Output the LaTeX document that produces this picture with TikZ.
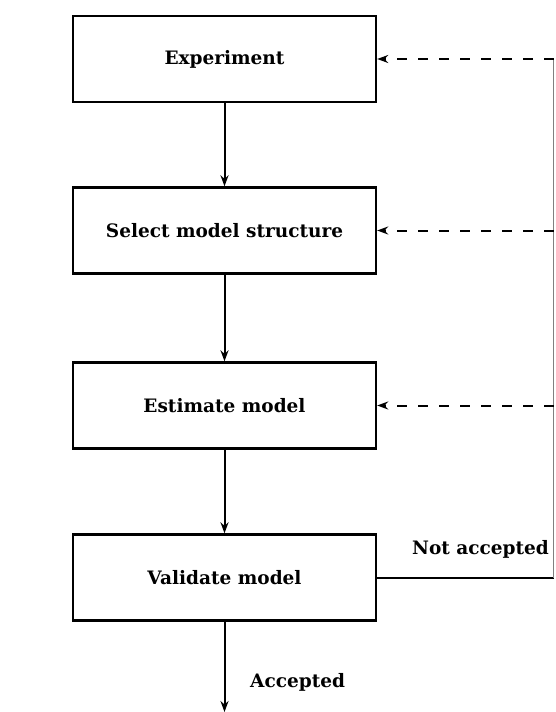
\documentclass[tikz,border=0pt]{standalone}
\usepackage{fontspec}
\setmainfont{DejaVu Serif}
\usetikzlibrary{arrows.meta}
\begin{document}
\begin{tikzpicture}[x=1pt,y=1pt,
  stage/.style={draw, line width=2.4pt, rectangle, minimum width=303pt, minimum height=86pt,
    inner sep=0pt, font=\fontsize{18.5}{22}\selectfont\bfseries},
  flow/.style={line width=2pt, -{Stealth[length=11pt,width=8pt]}},
  back/.style={line width=2pt, dash pattern=on 10pt off 11pt, -{Stealth[length=11pt,width=8pt]}},
  lbl/.style={font=\fontsize{18.5}{22}\selectfont\bfseries, inner sep=0pt}]
  \useasboundingbox (0,0) rectangle (555,-712);
  \fill[white] (0,0) rectangle (555,-712);

  % the four stages of the identification loop
  \node[stage] (exp) at (224.5,-59)    {Experiment};
  \node[stage] (sel) at (224.5,-230.5) {Select model structure};
  \node[stage] (est) at (224.5,-405.5) {Estimate model};
  \node[stage] (val) at (224.5,-577.5) {Validate model};

  % return path on the right
  \coordinate (r1) at (553.5,-59);
  \coordinate (r2) at (553.5,-230.5);
  \coordinate (r3) at (553.5,-405.5);
  \coordinate (r4) at (553.5,-577.5);
  \coordinate (out) at (224.5,-712);

  % forward flow
  \draw[flow] (exp) -- (sel);
  \draw[flow] (sel) -- (est);
  \draw[flow] (est) -- (val);
  \draw[flow] (val) -- (out);
  \node[lbl, anchor=west] (acc) at (250,-682) {Accepted};

  % rejection feeds back to every earlier stage
  \draw[line width=2pt] (val.east) -- (r4);
  \node[lbl, anchor=east] (nacc) at (549,-549) {Not accepted};
  \draw[gray, line width=0.6pt] (r4) -- (r1);
  \draw[back] (r1) -- (exp.east);
  \draw[back] (r2) -- (sel.east);
  \draw[back] (r3) -- (est.east);
\end{tikzpicture}
\end{document}
